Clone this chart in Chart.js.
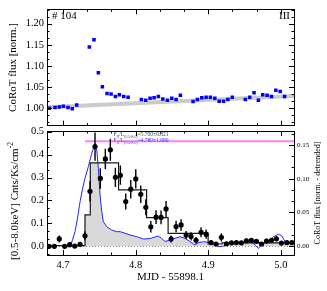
<!DOCTYPE html>
<html>
<head>
<meta charset="utf-8">
<script src="https://cdn.jsdelivr.net/npm/chart.js@4.4.0/dist/chart.umd.min.js"></script>
<style>
  html, body { margin: 0; padding: 0; background: #fff; }
  #wrap { position: relative; width: 327px; height: 291px; }
  canvas { position: absolute; left: 0; }
  #top { top: 0; }
  #bot { top: 110px; }
</style>
</head>
<body>
<div id="wrap">
  <canvas id="top" width="327" height="135"></canvas>
  <canvas id="bot" width="327" height="181"></canvas>
</div>
<script>
const SERIF = "'Liberation Serif', 'Times New Roman', serif";

// shared time axis (MJD - 55898.1)
const xRange = [4.678, 5.018];
const xTicks = [4.7, 4.8, 4.9, 5.0];

// top panel: CoRoT normalised flux
const corotX = [4.6812, 4.6890, 4.6949, 4.7005, 4.7069, 4.7128, 4.7189, 4.7363, 4.7427, 4.7487,
  4.7542, 4.7606, 4.7662, 4.7721, 4.7776, 4.7836, 4.7896, 4.8079, 4.8139, 4.8199,
  4.8254, 4.8313, 4.8374, 4.8437, 4.8498, 4.8557, 4.8616, 4.8791, 4.8850, 4.8911,
  4.8970, 4.9029, 4.9090, 4.9150, 4.9210, 4.9270, 4.9330, 4.9510, 4.9570, 4.9630,
  4.9690, 4.9750, 4.9810, 4.9870, 4.9930, 4.9990, 5.0050];
const corotFlux = [1.000, 1.002, 1.003, 1.005, 1.002, 0.999, 1.008, 1.145, 1.162, 1.084,
  1.051, 1.035, 1.034, 1.028, 1.032, 1.028, 1.026, 1.021, 1.019, 1.024,
  1.025, 1.028, 1.022, 1.019, 1.024, 1.021, 1.031, 1.016, 1.021, 1.025,
  1.026, 1.026, 1.024, 1.017, 1.017, 1.021, 1.026, 1.021, 1.026, 1.037,
  1.019, 1.032, 1.031, 1.028, 1.043, 1.040, 1.028];
const trendX = [4.678, 5.018];
const trendFlux = [1.0027, 1.029];
const fluxRange = [0.959, 1.234];
const fluxTicks = [1.00, 1.05, 1.10, 1.15, 1.20];

// bottom panel: X-ray rate
const xrayX = [4.6808, 4.6881, 4.6949, 4.7024, 4.7093, 4.7162, 4.7235, 4.7303, 4.7372, 4.7441,
  4.7514, 4.7583, 4.7652, 4.7721, 4.7790, 4.7864, 4.7933, 4.8002, 4.8071, 4.8140,
  4.8209, 4.8281, 4.8350, 4.8419, 4.8488, 4.8557, 4.8626, 4.8695, 4.8763, 4.8832,
  4.8901, 4.8970, 4.9039, 4.9108, 4.9180, 4.9250, 4.9319, 4.9387, 4.9456, 4.9525,
  4.9594, 4.9663, 4.9732, 4.9801, 4.9870, 4.9938, 5.0007, 5.0082, 5.0150];
const xrayRate = [0.000, 0.000, 0.032, 0.000, 0.007, 0.001, 0.009, 0.046, 0.240, 0.435,
  0.296, 0.381, 0.421, 0.301, 0.310, 0.195, 0.249, 0.294, 0.227, 0.170,
  0.085, 0.127, 0.126, 0.163, 0.032, 0.086, 0.093, 0.049, 0.043, 0.026,
  0.061, 0.053, 0.016, 0.010, 0.039, 0.011, 0.015, 0.016, 0.015, 0.024,
  0.026, 0.022, 0.010, 0.023, 0.026, 0.033, 0.014, 0.016, 0.016];
const xrayErr = [0.008, 0.008, 0.015, 0.008, 0.010, 0.008, 0.010, 0.020, 0.045, 0.062,
  0.045, 0.045, 0.048, 0.042, 0.042, 0.035, 0.040, 0.042, 0.038, 0.035,
  0.025, 0.030, 0.030, 0.035, 0.015, 0.025, 0.025, 0.018, 0.018, 0.015,
  0.022, 0.020, 0.010, 0.008, 0.018, 0.008, 0.008, 0.008, 0.008, 0.010,
  0.010, 0.010, 0.008, 0.010, 0.010, 0.012, 0.008, 0.008, 0.008];
const blockEdges = [4.678, 4.7303, 4.7376, 4.7765, 4.8151, 4.8447, 4.8998, 4.919, 5.018];
const blockRate = [0.003, 0.137, 0.364, 0.246, 0.125, 0.056, 0.010, 0.015];
const rateRange = [-0.038, 0.503];
const rateTicks = [0.0, 0.1, 0.2, 0.3, 0.4, 0.5];

// bottom panel, right axis: detrended CoRoT flux
const detX = [4.678, 4.6863, 4.6945, 4.7028, 4.7097, 4.7131, 4.7166, 4.7200, 4.7235, 4.7269,
  4.7303, 4.7349, 4.7396, 4.7441, 4.7465, 4.7487, 4.7510, 4.7534, 4.7555, 4.7602,
  4.7671, 4.7740, 4.7786, 4.7855, 4.7924, 4.8016, 4.8107, 4.8200, 4.8269, 4.8313,
  4.8360, 4.8405, 4.8474, 4.8543, 4.8612, 4.8681, 4.8750, 4.8819, 4.8864, 4.8933,
  4.9002, 4.9071, 4.9140, 4.9209, 4.9277, 4.9346, 4.9415, 4.9484, 4.9553, 4.9622,
  4.9690, 4.9759, 4.9828, 4.9897, 4.9966, 5.0013, 5.0058, 5.0127, 5.018];
const detFlux = [0.0012, 0.0007, 0.0012, 0.0004, -0.0010, 0.0093, 0.0216, 0.0419, 0.0660, 0.0848,
  0.1006, 0.1178, 0.1376, 0.1520, 0.1425, 0.1154, 0.0759, 0.0512, 0.0364, 0.0290,
  0.0241, 0.0216, 0.0216, 0.0192, 0.0167, 0.0142, 0.0108, 0.0115, 0.0138, 0.0152,
  0.0115, 0.0071, 0.0093, 0.0118, 0.0142, 0.0118, 0.0068, 0.0019, 0.0053, 0.0068,
  0.0059, 0.0034, -0.0006, 0.0004, 0.0044, 0.0034, 0.0053, 0.0059, 0.0068, 0.0044,
  -0.0030, 0.0044, 0.0068, 0.0142, 0.0178, 0.0152, 0.0068, 0.0044, 0.0053];
const peakX = [4.7303, 5.018];
const peakFlux = [0.1555, 0.1555];
const detRange = [-0.01288, 0.1705];
const detTicks = [0.00, 0.05, 0.10, 0.15];

const pts = (xs, ys) => xs.map((x, i) => ({ x, y: ys[i] }));

function fixTicks(values) {
  return (scale) => { scale.ticks = values.map(v => ({ value: v })); };
}

function minors(major, n, lo, hi) {
  const step = (major[1] - major[0]) / n;
  const out = [];
  let v = major[0];
  while (v - step >= lo) v -= step;
  for (; v <= hi + 1e-9; v += step) out.push(v);
  return out;
}

// inward tick marks on a chart side
function tickMarks(ctx, area, scale, values, side, len) {
  ctx.beginPath();
  values.forEach(v => {
    if (v < scale.min - 1e-9 || v > scale.max + 1e-9) return;
    const p = Math.round(scale.getPixelForValue(v)) + 0.5;
    if (side === 'top') { ctx.moveTo(p, area.top); ctx.lineTo(p, area.top + len); }
    if (side === 'bottom') { ctx.moveTo(p, area.bottom); ctx.lineTo(p, area.bottom - len); }
    if (side === 'left') { ctx.moveTo(area.left, p); ctx.lineTo(area.left + len, p); }
    if (side === 'right') { ctx.moveTo(area.right, p); ctx.lineTo(area.right - len, p); }
  });
  ctx.stroke();
}

function axisTicks(ctx, area, scale, major, n, sides) {
  const mn = minors(major, n, scale.min, scale.max);
  sides.forEach(s => {
    tickMarks(ctx, area, scale, major, s, 5);
    tickMarks(ctx, area, scale, mn, s, 2.5);
  });
}

function frame(ctx, area) {
  ctx.strokeRect(Math.round(area.left) + 0.5, Math.round(area.top) + 0.5,
    Math.round(area.right - area.left), Math.round(area.bottom - area.top));
}

function vText(ctx, text, x, y, size) {
  ctx.save();
  ctx.translate(x, y);
  ctx.rotate(-Math.PI / 2);
  ctx.font = size + 'px ' + SERIF;
  ctx.textAlign = 'center';
  ctx.textBaseline = 'middle';
  ctx.fillText(text, 0, 0);
  ctx.restore();
}

// text made of runs: [text, isSub]
function runs(ctx, parts, x, y, size, color) {
  ctx.save();
  ctx.fillStyle = color;
  ctx.textBaseline = 'alphabetic';
  ctx.textAlign = 'left';
  parts.forEach(([t, sub]) => {
    const s = sub ? size * 0.7 : size;
    ctx.font = s + 'px ' + SERIF;
    ctx.fillText(t, x, y + (sub ? size * 0.3 : 0));
    x += ctx.measureText(t).width;
  });
  ctx.restore();
}

const tickFont = { family: SERIF, size: 10.5 };

const topDecor = {
  id: 'topDecor',
  afterDraw(chart) {
    const { ctx, chartArea: a } = chart;
    const xs = chart.scales.x, ys = chart.scales.y;
    ctx.save();
    ctx.strokeStyle = '#000';
    ctx.lineWidth = 1;
    frame(ctx, a);
    axisTicks(ctx, a, xs, xTicks, 3, ['top', 'bottom']);
    axisTicks(ctx, a, ys, fluxTicks, 3, ['left', 'right']);
    ctx.fillStyle = '#000';
    ctx.font = '11px ' + SERIF;
    ctx.textBaseline = 'middle';
    ctx.textAlign = 'left';
    ctx.fillText('# 104', a.left + 5, 16);
    ctx.textAlign = 'right';
    ctx.fillText('III', a.right - 4, 16);
    vText(ctx, 'CoRoT flux [norm.]', 13, (a.top + a.bottom) / 2, 11);
    ctx.restore();
  }
};

new Chart(document.getElementById('top'), {
  type: 'scatter',
  data: {
    datasets: [
      { data: pts(corotX, corotFlux), pointStyle: 'rect', pointRadius: 2.5,
        backgroundColor: '#0000ff', borderWidth: 0, order: 0 },
      { type: 'line', data: pts(trendX, trendFlux), borderColor: '#cbcbcb',
        borderWidth: 4, pointRadius: 0, order: 1 }
    ]
  },
  options: {
    responsive: false, animation: false, devicePixelRatio: 1,
    layout: { padding: { top: 8, right: 33, bottom: 4, left: 0 } },
    plugins: { legend: { display: false }, tooltip: { enabled: false } },
    scales: {
      x: { type: 'linear', min: xRange[0], max: xRange[1], display: false },
      y: {
        type: 'linear', min: fluxRange[0], max: fluxRange[1],
        afterFit: s => { s.width = 47; },
        afterBuildTicks: fixTicks(fluxTicks),
        grid: { display: false, drawTicks: false }, border: { display: false },
        ticks: { color: '#000', font: tickFont, padding: 3, autoSkip: false,
          callback: v => v.toFixed(2) }
      }
    }
  },
  plugins: [topDecor]
});

const botDecor = {
  id: 'botDecor',
  beforeDatasetsDraw(chart) {
    const { ctx, chartArea: a } = chart;
    const xs = chart.scales.x, ys = chart.scales.y, y2 = chart.scales.y2;
    ctx.save();
    ctx.beginPath();
    ctx.rect(a.left, a.top, a.right - a.left, a.bottom - a.top);
    ctx.clip();
    // overlap of the block curve and the detrended optical flux
    const y0 = ys.getPixelForValue(0);
    ctx.beginPath();
    ctx.moveTo(xs.getPixelForValue(blockEdges[0]), y0);
    blockRate.forEach((r, i) => {
      const yp = ys.getPixelForValue(r);
      ctx.lineTo(xs.getPixelForValue(blockEdges[i]), yp);
      ctx.lineTo(xs.getPixelForValue(blockEdges[i + 1]), yp);
    });
    ctx.lineTo(xs.getPixelForValue(blockEdges[blockEdges.length - 1]), y0);
    ctx.closePath();
    ctx.clip();
    const r0 = y2.getPixelForValue(0);
    ctx.beginPath();
    ctx.moveTo(xs.getPixelForValue(detX[0]), r0);
    detX.forEach((x, i) => ctx.lineTo(xs.getPixelForValue(x), y2.getPixelForValue(detFlux[i])));
    ctx.lineTo(xs.getPixelForValue(detX[detX.length - 1]), r0);
    ctx.closePath();
    ctx.fillStyle = '#d9d9d9';
    ctx.fill();
    ctx.restore();
    // dotted zero line
    ctx.save();
    ctx.strokeStyle = '#8c8c8c';
    ctx.lineWidth = 1;
    ctx.setLineDash([1, 2]);
    ctx.beginPath();
    ctx.moveTo(a.left, Math.round(y0) + 0.5);
    ctx.lineTo(a.right, Math.round(y0) + 0.5);
    ctx.stroke();
    ctx.restore();
  },
  beforeDatasetDraw(chart, args) {
    if (args.index !== 0) return;
    const { ctx } = chart;
    const xs = chart.scales.x, ys = chart.scales.y;
    ctx.save();
    ctx.strokeStyle = '#000';
    ctx.lineWidth = 1.4;
    ctx.beginPath();
    xrayX.forEach((x, i) => {
      const px = xs.getPixelForValue(x);
      ctx.moveTo(px, ys.getPixelForValue(xrayRate[i] - xrayErr[i]));
      ctx.lineTo(px, ys.getPixelForValue(xrayRate[i] + xrayErr[i]));
    });
    ctx.stroke();
    ctx.restore();
  },
  afterDraw(chart) {
    const { ctx, chartArea: a } = chart;
    const xs = chart.scales.x, ys = chart.scales.y, y2 = chart.scales.y2;
    ctx.save();
    ctx.strokeStyle = '#000';
    ctx.lineWidth = 1;
    frame(ctx, a);
    axisTicks(ctx, a, xs, xTicks, 3, ['top', 'bottom']);
    axisTicks(ctx, a, ys, rateTicks, 3, ['left']);
    axisTicks(ctx, a, y2, detTicks, 3, ['right']);
    ctx.fillStyle = '#000';
    // left title with superscript
    ctx.translate(15, (a.top + a.bottom) / 2 + 8);
    ctx.rotate(-Math.PI / 2);
    ctx.textBaseline = 'middle';
    ctx.textAlign = 'left';
    const main = '[0.5-8.0keV] Cnts/Ks/cm';
    ctx.font = '11px ' + SERIF;
    const wm = ctx.measureText(main).width;
    ctx.font = '7.5px ' + SERIF;
    const ws = ctx.measureText('-2').width;
    const x0 = -(wm + ws) / 2;
    ctx.font = '11px ' + SERIF;
    ctx.fillText(main, x0, 0);
    ctx.font = '7.5px ' + SERIF;
    ctx.fillText('-2', x0 + wm, -4);
    ctx.setTransform(1, 0, 0, 1, 0, 0);
    vText(ctx, 'CoRoT flux [norm. - detrended]', 318, (a.top + a.bottom) / 2, 8);
    // flux ratio notes
    const nx = xs.getPixelForValue(4.7695);
    runs(ctx, [['F', 0], ['X', 1], ['/L', 0], ['[0.5-8.0]', 1], ['=5.700±0.821', 0]], nx, a.top + 5, 5.5, '#444');
    runs(ctx, [['F', 0], ['X', 1], ['/L', 0], ['[0.5-8.0]', 1], ['=4.780±1.680', 0]], nx, a.top + 11, 5.5, '#3030ff');
    ctx.restore();
  }
};

new Chart(document.getElementById('bot'), {
  type: 'scatter',
  data: {
    datasets: [
      { data: pts(xrayX, xrayRate), pointRadius: 2.6, backgroundColor: '#000',
        borderWidth: 0, yAxisID: 'y', order: 0 },
      { type: 'line', data: [...pts(blockEdges.slice(0, -1), blockRate),
          { x: blockEdges[blockEdges.length - 1], y: blockRate[blockRate.length - 1] }],
        stepped: true, borderColor: '#1a1a1a', borderWidth: 1.2, pointRadius: 0,
        yAxisID: 'y', order: 1 },
      { type: 'line', data: pts(peakX, peakFlux), borderColor: '#ff80ff', borderWidth: 2,
        pointRadius: 0, yAxisID: 'y2', order: 2 },
      { type: 'line', data: pts(detX, detFlux), borderColor: '#2424ff', borderWidth: 1,
        pointRadius: 0, yAxisID: 'y2', order: 3 }
    ]
  },
  options: {
    responsive: false, animation: false, devicePixelRatio: 1,
    layout: { padding: { top: 21, right: 0, bottom: 0, left: 0 } },
    plugins: { legend: { display: false }, tooltip: { enabled: false } },
    scales: {
      x: {
        type: 'linear', min: xRange[0], max: xRange[1],
        afterFit: s => { s.height = 36; },
        afterBuildTicks: fixTicks(xTicks),
        grid: { display: false, drawTicks: false }, border: { display: false },
        ticks: { color: '#000', font: tickFont, padding: 4, autoSkip: false, maxRotation: 0,
          callback: v => v.toFixed(1) },
        title: { display: true, text: 'MJD - 55898.1', color: '#000',
          font: { family: SERIF, size: 11 }, padding: { top: 0, bottom: 7 } }
      },
      y: {
        type: 'linear', position: 'left', min: rateRange[0], max: rateRange[1],
        afterFit: s => { s.width = 47; },
        afterBuildTicks: fixTicks(rateTicks),
        grid: { display: false, drawTicks: false }, border: { display: false },
        ticks: { color: '#000', font: tickFont, padding: 3, autoSkip: false,
          callback: v => v.toFixed(1) }
      },
      y2: {
        type: 'linear', position: 'right', min: detRange[0], max: detRange[1],
        afterFit: s => { s.width = 33; },
        afterBuildTicks: fixTicks(detTicks),
        grid: { display: false, drawTicks: false }, border: { display: false },
        ticks: { color: '#000', font: { family: SERIF, size: 7 }, padding: 3, autoSkip: false,
          callback: v => v.toFixed(2) }
      }
    }
  },
  plugins: [botDecor]
});
</script>
</body>
</html>
